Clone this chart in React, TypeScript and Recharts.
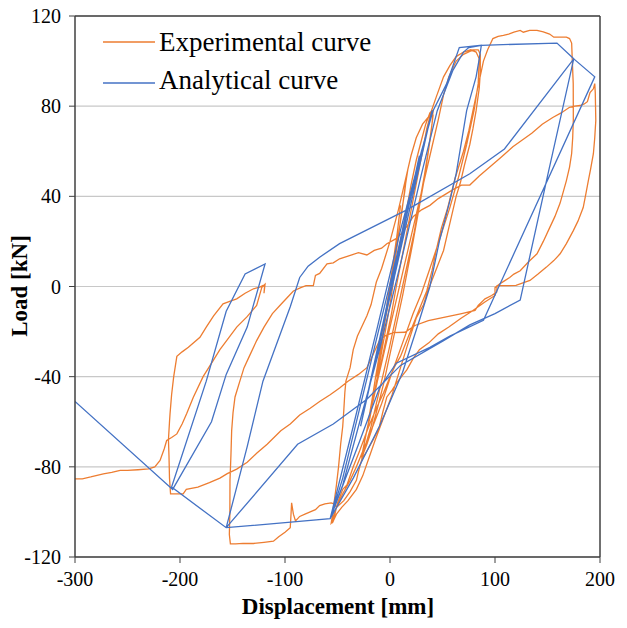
import React from 'react';
import { LineChart, Line, XAxis, YAxis, CartesianGrid, ReferenceLine, Legend } from 'recharts';

// [displacement mm, load kN]
const expSmallCycles: number[][] = [
  [0, 0], [2, 7], [4, 14], [6, 20], [5, 16], [3, 9], [1, 2], [-1, -4], [-3, -10], [-5, -16], [-4, -12], [-2, -5], [0, 1],
  [3, 10], [6, 20], [8, 28], [10, 36], [9, 32], [7, 24], [4, 14], [1, 4], [-2, -6], [-5, -15], [-8, -24], [-11, -33], [-13, -40],
  [-11, -35], [-8, -26], [-5, -16], [-1, -4], [3, 8], [7, 20], [11, 32], [14, 43], [17, 52], [16, 50], [14, 42], [11, 33],
  [8, 22], [5, 12], [2, 3], [-2, -8], [-6, -19], [-10, -30], [-14, -41], [-17, -50], [-20, -58], [-21, -62], [-19, -58],
  [-16, -50], [-12, -40], [-8, -29], [-3, -16], [1, -5],
];

const expCycle40: number[][] = [
  [5, 8], [10, 20], [15, 32], [20, 45], [25, 56], [30, 65], [34, 72], [38, 77], [40, 78], [41, 76], [39, 68], [36, 58],
  [32, 46], [27, 33], [22, 20], [17, 8], [12, -4], [6, -17], [0, -30], [-6, -43], [-12, -54], [-17, -63], [-22, -70],
  [-27, -76], [-26, -73], [-23, -66], [-19, -57], [-14, -46], [-9, -35], [-4, -24], [1, -13], [6, 0], [11, 12], [16, 24],
  [21, 36], [26, 48], [31, 60], [35, 70], [39, 77], [41, 78], [40, 72], [37, 62], [33, 50], [28, 37], [23, 24], [17, 11],
  [11, -2], [5, -15], [-1, -28], [-7, -40], [-13, -52], [-18, -62], [-23, -70], [-27, -77],
];

const expCycle80: number[][] = [
  [-24, -68], [-18, -55], [-12, -42], [-6, -30], [0, -18], [6, -6], [13, 8], [20, 22], [27, 36], [34, 50], [40, 62],
  [46, 74], [51, 85], [56, 93], [63, 100], [70, 103], [79, 105], [84, 105], [86, 103], [86, 95], [85, 88], [82, 78],
  [79, 70], [76, 63], [71, 54], [67, 46], [63, 40], [60, 34], [55, 24], [51, 16], [46, 10], [41, 4], [36, -2], [32, -8],
  [25, -14], [18, -24], [10, -36], [2, -48], [-6, -58], [-14, -68], [-20, -76], [-26, -84], [-32, -90], [-40, -95],
  [-46, -98], [-51, -101], [-54, -104], [-56, -105],
  [-55, -102], [-53, -95], [-51, -88], [-49, -80], [-47, -70], [-45, -62], [-44, -55], [-43, -47], [-42, -42], [-38, -36],
  [-35, -28], [-31, -22], [-27, -18], [-22, -13], [-18, -8], [-13, 2], [-8, 8], [-4, 14], [0, 20], [4, 27], [8, 34],
  [12, 42], [16, 50], [20, 58], [25, 66], [31, 72], [38, 76], [44, 84], [51, 93], [57, 98], [63, 102], [70, 104],
  [77, 105], [82, 104], [85, 101], [84, 90], [80, 78], [73, 63], [65, 48], [57, 35], [48, 22], [38, 8], [30, -3],
  [22, -12], [12, -25], [2, -38], [-8, -52], [-18, -64], [-25, -72], [-32, -80], [-38, -86], [-45, -92], [-50, -97],
  [-54, -102], [-55, -105],
];

const expCycle170: number[][] = [
  [-54, -104], [-50, -96], [-45, -90], [-41, -88], [-35, -80], [-29, -73], [-21, -63], [-13, -54], [-6, -47], [0, -40],
  [5, -35], [10, -31], [16, -24], [22, -17], [28, -10], [35, -2], [40, 7], [44, 16], [49, 26], [55, 35], [62, 48],
  [70, 60], [75, 69], [79, 78], [84, 89], [89, 100], [93, 105], [98, 110], [103, 111], [108, 111.4], [113, 112],
  [118, 112.8], [124, 113.6], [127, 112.8], [133, 113.6], [140, 113.6], [146, 113], [152, 112], [156, 110.6],
  [162, 110.6], [168, 110.6], [171, 110], [173, 108], [173.5, 101.7], [174.5, 90], [174.6, 74], [174, 66], [173, 59],
  [171, 53], [168, 47], [165, 42], [162, 37], [157, 31], [152, 26], [146, 20], [140, 14.5], [132, 11], [124, 7],
  [118, 5.5], [114, 4], [109, 2.5], [104, 1], [100, -0.5], [100, -4], [90, -7], [84, -9], [78, -11], [68, -14],
  [62, -16], [56, -18], [46, -21], [37, -25], [28, -28], [22, -32], [16, -37], [11, -40], [6, -43], [2, -46], [-3, -49],
  [-7, -56], [-10, -62], [-16, -68], [-22, -73], [-27, -77], [-30, -82], [-32, -86], [-38, -91], [-44, -95], [-51, -98],
  [-53, -96.5], [-56, -96], [-62, -96.4], [-67, -97.2], [-71, -99], [-76, -100], [-81, -101], [-86, -102], [-90, -104],
  [-92, -101], [-93.7, -96], [-94.5, -103], [-95, -107], [-100, -109], [-106, -111], [-111, -113], [-120, -113.5],
  [-130, -114], [-140, -114], [-147, -114.2], [-152, -114.2],
];

const expCycle195: number[][] = [
  [-153, -110], [-152.5, -100], [-152.4, -86], [-151.5, -75], [-150.8, -64], [-149.5, -56], [-147.6, -49], [-143, -42],
  [-139, -36], [-134, -31], [-127, -24], [-120, -18], [-112, -12], [-104, -8], [-98, -5], [-92, -2], [-85, -0.5],
  [-80, 0.4], [-73, 0.4], [-71, 4.9], [-67, 5.8], [-60, 10], [-54, 10.5], [-48, 12.3], [-40, 13.5], [-30, 15],
  [-22, 14], [-15, 16], [-8, 17], [-3, 19], [5, 21], [12, 24], [18, 28], [22, 31], [30, 34], [38, 36], [46, 39],
  [53, 41], [60, 43], [68, 45], [76, 45], [85, 49], [95, 53], [105, 57], [117, 62], [126, 65], [135, 68], [145, 72],
  [155, 75], [163, 77], [171, 79.5], [176, 80], [181, 80.3], [185, 81], [188, 82], [190.5, 86], [193.7, 87.7], [195, 90],
  [195.5, 86], [196, 73.6], [195, 66], [193.7, 58.9], [191, 52], [188.9, 47], [186.5, 41], [184, 35], [179, 29],
  [174.6, 24.8], [168, 19], [162, 14.5], [156, 11.5], [149, 8.6], [141, 5.5], [133.3, 2.7], [128.6, 1.9], [120, 0.5],
  [112, 0.4], [102, 0.4], [101.6, -2.5], [96.8, -4], [90.5, -5.5], [84, -8.4], [81, -10.6], [68.3, -12], [52.4, -13.6],
  [36.5, -15.1], [23.8, -17.3], [14.3, -20.3], [3, -20.5], [0, -21],
];

const expFinal: number[][] = [
  [-5, -22], [-10, -24], [-16, -30], [-22, -36], [-30, -39], [-40, -42], [-48, -45], [-57, -48], [-67, -51], [-76, -54],
  [-86, -57], [-95, -61], [-104, -64], [-117, -70], [-127, -74], [-136, -78], [-146, -81], [-155, -83], [-162, -85],
  [-172, -87], [-183, -89], [-194, -90], [-197, -92], [-203, -92], [-209, -92], [-210, -85], [-210.5, -75], [-211, -68],
  [-210, -60], [-209.5, -56.5], [-208, -48], [-206, -40], [-203, -31], [-198, -29], [-192, -27], [-181, -22.5],
  [-175, -18], [-168, -13], [-159, -7.7], [-152, -6.5], [-146, -5.5], [-138, -3], [-130, -1], [-124, -0.3], [-121, 0.4],
  [-119.5, 0], [-120, -3], [-119, 1], [-122, -0.3], [-127, -8.4], [-136.5, -13.6], [-146, -18], [-155.6, -24],
  [-162, -28], [-168.3, -32.8], [-178, -40], [-187.3, -49.1], [-193.7, -56.5], [-198, -61], [-203, -65.4], [-208, -67],
  [-212.7, -68.3], [-215, -72], [-219, -77.2], [-224, -80], [-230, -80.9], [-240, -81.3], [-250, -81.6], [-257, -81.6],
  [-265, -82.5], [-273, -83.1], [-285, -84.5], [-293, -85.3], [-300, -85.3],
];

// analytical model: vertices of the multi-linear path
const anaSmallCycles: number[][] = [
  [0, 0], [18, 38], [-12, -30], [28, 58], [-28, -62], [40, 78], [-45, -85], [-57, -103], [-35, -62], [-12, -18],
  [10, 25], [30, 60], [41, 78], [54, 90], [66, 106], [87, 107],
  [85, 101], [82, 93], [73, 78], [63, 50], [57, 38], [47, 20], [38, 0], [28, -15], [12, -38], [-10, -62], [-35, -85],
  [-57, -103], [-45, -88], [-30, -62], [-10, -28], [10, 10], [30, 50], [45, 78], [60, 96], [70, 104], [75, 106], [87, 107],
];

const anaLargeCycles: number[][] = [
  [159, 108], [175, 101], [150, 49], [124, -6], [100, -12], [76, -17], [51, -24], [10, -35], [-22, -50], [-54, -61],
  [-88, -70], [-156, -107], [-136, -71], [-121, -42], [-95, -9], [-86, 4], [-78, 9], [-67, 13], [-48, 19], [16, 34],
  [76, 50], [109, 61], [175, 101], [195, 93], [89, -15], [57, -22], [38, -27], [6, -34], [-10, -45], [-30, -70],
  [-57, -103], [-156, -107], [-208, -89], [-175, -42], [-156, -11], [-138, 5.6], [-119, 10], [-136, -18], [-156, -39],
  [-170, -60], [-207, -90], [-300, -51],
];

const xTicks = [-300, -200, -100, 0, 100, 200];
const yTicks = [-120, -80, -40, 0, 40, 80, 120];

const toPoints = (rows: number[][]) => rows.map(([x, y]) => ({ x, y }));

const experimental = toPoints([
  ...expSmallCycles, ...expCycle40, ...expCycle80, ...expCycle170, ...expCycle195, ...expFinal,
]);
const analytical = toPoints([...anaSmallCycles, ...anaLargeCycles]);

const SERIF = '"Liberation Serif", "Times New Roman", serif';
const ORANGE = '#ED7D31';
const BLUE = '#4472C4';
const AXIS = '#404040';

const XTick = ({ x, y, payload }: any) => (
  <text x={x} y={y} dy="0.71em" textAnchor="middle" fontFamily={SERIF} fontSize={20} fill="#000">
    {payload.value}
  </text>
);

const YTick = ({ x, y, payload }: any) => (
  <text x={x} y={y} dy="0.355em" textAnchor="end" fontFamily={SERIF} fontSize={20} fill="#000">
    {payload.value}
  </text>
);

const renderLegend = () => (
  <svg width={611} height={110}>
    <line x1={95} x2={147} y1={42} y2={42} stroke={ORANGE} strokeWidth={1.3} />
    <text x={151} y={51} fontFamily={SERIF} fontSize={27} fill="#000">Experimental curve</text>
    <line x1={95} x2={147} y1={83} y2={83} stroke={BLUE} strokeWidth={1.3} />
    <text x={151} y={89} fontFamily={SERIF} fontSize={27} fill="#000">Analytical curve</text>
  </svg>
);

const App: React.FC = () => {
  return (
    <div style={{ width: 611, height: 620, marginTop: -8 }}>
      <LineChart width={611} height={620} margin={{ top: 16, right: 19, bottom: 0, left: 0 }}>
        <CartesianGrid vertical={false} stroke="#c8c8c8" strokeWidth={1.2} />
        <XAxis
          type="number"
          dataKey="x"
          domain={[-300, 200]}
          ticks={xTicks}
          allowDataOverflow
          height={63}
          tickSize={6}
          tickMargin={9}
          tickLine={{ stroke: AXIS }}
          axisLine={{ stroke: AXIS, strokeWidth: 1.5 }}
          tick={<XTick />}
          label={{
            content: () => (
              <text x={330} y={614} textAnchor="middle" fontFamily={SERIF} fontSize={23} fontWeight="bold" fill="#000">
                Displacement [mm]
              </text>
            ),
          }}
        />
        <YAxis
          type="number"
          dataKey="y"
          domain={[-120, 120]}
          ticks={yTicks}
          allowDataOverflow
          width={67}
          tickSize={6}
          tickMargin={8}
          tickLine={{ stroke: AXIS }}
          axisLine={{ stroke: AXIS, strokeWidth: 1.5 }}
          tick={<YTick />}
          label={{
            content: () => (
              <text
                x={11}
                y={286}
                transform="rotate(-90, 11, 286)"
                textAnchor="middle"
                dominantBaseline="central"
                fontFamily={SERIF}
                fontSize={23}
                fontWeight="bold"
                fill="#000"
              >
                Load [kN]
              </text>
            ),
          }}
        />
        <ReferenceLine y={120} stroke={AXIS} strokeWidth={1.5} />
        <ReferenceLine x={200} stroke={AXIS} strokeWidth={1.5} />
        <Legend
          layout="horizontal"
          verticalAlign="middle"
          align="center"
          wrapperStyle={{ position: 'absolute', left: 0, top: 0, width: 611, height: 110 }}
          content={renderLegend}
        />
        <Line
          data={experimental}
          dataKey="y"
          name="Experimental curve"
          type="linear"
          stroke={ORANGE}
          strokeWidth={1.3}
          dot={false}
          activeDot={false}
          isAnimationActive={false}
        />
        <Line
          data={analytical}
          dataKey="y"
          name="Analytical curve"
          type="linear"
          stroke={BLUE}
          strokeWidth={1.3}
          dot={false}
          activeDot={false}
          isAnimationActive={false}
        />
      </LineChart>
    </div>
  );
};

export default App;
